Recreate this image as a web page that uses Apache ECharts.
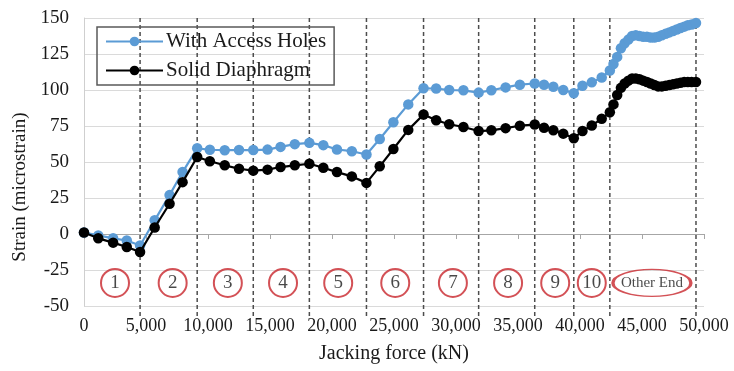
<!DOCTYPE html>
<html>
<head>
<meta charset="utf-8">
<script src="https://cdn.jsdelivr.net/npm/echarts@6/dist/echarts.min.js"></script>
<style>
  html, body { margin: 0; padding: 0; background: #fff; }
  #chart { width: 734px; height: 371px; }
</style>
</head>
<body>
<div id="chart"></div>
<script>
// Jacking force at each reading (kN)
const jackingForce = [
  0, 1150, 2350, 3450, 4523, 5700, 6900, 7950, 9128, 10150, 11350, 12500, 13651,
  14800, 15850, 17000, 18174, 19300, 20400, 21600, 22779, 23850, 24950, 26150, 27383,
  28400, 29450, 30600, 31826, 32850, 34000, 35150, 36349, 37100, 37850, 38650, 39499,
  40200, 40950, 41750, 42407, 42700, 43000, 43300, 43600, 43900, 44200, 44500, 44800,
  45100, 45400, 45700, 46000, 46300, 46600, 46900, 47200, 47500, 47800, 48100, 48400,
  48700, 49000, 49354
];
// Strain, diaphragm with access holes (microstrain)
const withAccessHoles = [
  1, -1, -3, -4.5, -8, 9.5, 27, 43, 59.5, 58.5, 58.2, 58.3, 58.3,
  58.6, 60.5, 62.4, 63.3, 61.7, 58.7, 57.5, 55.2, 66, 77.6, 90, 101.2,
  101, 100, 99.8, 98.2, 99.8, 101.8, 103.7, 104.5, 103.7, 102.3, 100, 97.8,
  103, 105.3, 108.7, 113.5, 118, 123, 129, 132.5, 135, 137.5, 138, 137.5,
  137, 137, 136.5, 136.5, 137, 138, 139, 140, 141, 142, 143, 144,
  145, 145.5, 146.5
];
// Strain, solid diaphragm (microstrain)
const solidDiaphragm = [
  1, -3, -6, -9, -12.5, 4.5, 21, 36, 53.5, 50.5, 47.7, 45.3, 44,
  44.7, 46.5, 47.7, 48.8, 46, 43, 40, 35.5, 47, 59, 72.3, 83,
  79, 76.2, 74.3, 71.5, 72, 73.5, 75.2, 76, 73.8, 72, 69.7, 66.5,
  71.5, 75.4, 80, 84.5, 90, 96.5, 101.5, 104.5, 106.5, 108, 108, 107.5,
  106.5, 105.5, 104.5, 103.5, 102.5, 102.5, 103, 103.5, 104, 104.5, 105, 105.5,
  105.5, 105.5, 105.5
];
// Load stage boundaries (kN)
const stageBoundaries = [4523, 9128, 13651, 18174, 22779, 27383, 31826, 36349, 39499, 42407, 49354];
// Load stage markers: label and position (kN)
const stageLabels = ['1', '2', '3', '4', '5', '6', '7', '8', '9', '10', 'Other End'];
const stageCentres = [2500, 7150, 11600, 16050, 20500, 25100, 29750, 34200, 38000, 40950, 45800];
const stageLabelLevel = -34;
// Axis ticks
const yTicks = { min: -50, max: 150, step: 25 };
const xTicks = { min: 0, max: 50000, step: 5000 };

const serif = '"Liberation Serif", "Times New Roman", serif';

const chart = echarts.init(document.getElementById('chart'), null, { renderer: 'canvas' });

const lineData = (ys) => jackingForce.map((x, i) => [x, ys[i]]);

const option = {
  backgroundColor: '#fff',
  animation: false,
  grid: { left: 84, right: 30, top: 18, bottom: 65 },
  legend: {
    orient: 'vertical',
    left: 97, top: 27,
    padding: [4, 8, 4, 8],
    itemGap: 8,
    itemWidth: 57,
    itemHeight: 12,
    borderColor: '#595959',
    borderWidth: 1.5,
    data: ['With Access Holes', 'Solid Diaphragm'],
    textStyle: { fontFamily: serif, fontSize: 21, color: '#1a1a1a', padding: [0, 0, 0, -2] }
  },
  xAxis: [
    {
      type: 'value', min: xTicks.min, max: xTicks.max, interval: xTicks.step,
      position: 'bottom',
      axisLine: { show: false, onZero: false },
      axisTick: { show: false },
      splitLine: { show: false },
      axisLabel: {
        margin: 11, fontFamily: serif, fontSize: 18, color: '#1a1a1a',
        formatter: (v) => v.toLocaleString('en-US')
      },
      name: 'Jacking force (kN)',
      nameLocation: 'middle',
      nameGap: 38,
      nameTextStyle: { fontFamily: serif, fontSize: 20, color: '#1a1a1a' }
    },
    {
      type: 'value', min: xTicks.min, max: xTicks.max, interval: xTicks.step,
      position: 'bottom',
      axisLine: { show: true, onZero: true, lineStyle: { color: '#a6a6a6', width: 1.2 } },
      axisTick: { show: true, length: 5, lineStyle: { color: '#a6a6a6' } },
      axisLabel: { show: false },
      splitLine: { show: false }
    }
  ],
  yAxis: {
    type: 'value', min: yTicks.min, max: yTicks.max, interval: yTicks.step,
    axisLine: { show: true, lineStyle: { color: '#cfcfcf' } },
    axisTick: { show: false },
    splitLine: { lineStyle: { color: '#dadada', width: 1 } },
    axisLabel: { margin: 15, fontFamily: serif, fontSize: 19, color: '#1a1a1a' },
    name: 'Strain (microstrain)',
    nameLocation: 'middle',
    nameGap: 54,
    nameTextStyle: { fontFamily: serif, fontSize: 19, color: '#1a1a1a', padding: [0, 50, 0, 0] }
  },
  series: [
    {
      // Vertical dashed lines separating load stages
      type: 'custom',
      xAxisIndex: 0,
      clip: false,
      silent: true,
      z: 1,
      data: stageBoundaries.map((x) => [x]),
      encode: { x: 0 },
      renderItem: (params, api) => {
        const x = api.value(0);
        const top = api.coord([x, yTicks.max]);
        const bot = api.coord([x, yTicks.min]);
        return {
          type: 'line',
          shape: { x1: top[0], y1: top[1], x2: bot[0], y2: bot[1] + 12 },
          style: { stroke: '#4d4d4d', lineWidth: 1.5, lineDash: [4, 3] }
        };
      }
    },
    {
      // Circled load-stage labels
      type: 'scatter',
      xAxisIndex: 0,
      silent: true,
      z: 3,
      data: stageCentres.map((x, i) => ({
        value: [x, stageLabelLevel],
        name: stageLabels[i],
        symbolSize: stageLabels[i].length > 2 ? [78, 27] : 28,
        label: { fontSize: stageLabels[i].length > 2 ? 15 : 19 }
      })),
      symbol: 'circle',
      itemStyle: { color: 'rgba(255,255,255,0)', borderColor: '#c8262c', borderWidth: 2 },
      label: {
        show: true, position: 'inside',
        formatter: (p) => p.name,
        fontFamily: serif, color: '#1a1a1a'
      },
      emphasis: { disabled: true }
    },
    {
      name: 'With Access Holes',
      type: 'line',
      xAxisIndex: 0,
      z: 4,
      data: lineData(withAccessHoles),
      symbol: 'circle',
      symbolSize: 10.5,
      lineStyle: { color: '#5b9bd5', width: 2.2 },
      itemStyle: { color: '#5b9bd5' },
      emphasis: { disabled: true }
    },
    {
      name: 'Solid Diaphragm',
      type: 'line',
      xAxisIndex: 0,
      z: 5,
      data: lineData(solidDiaphragm),
      symbol: 'circle',
      symbolSize: 10.5,
      lineStyle: { color: '#000', width: 2.2 },
      itemStyle: { color: '#000' },
      emphasis: { disabled: true }
    }
  ]
};

chart.setOption(option);
</script>
</body>
</html>
